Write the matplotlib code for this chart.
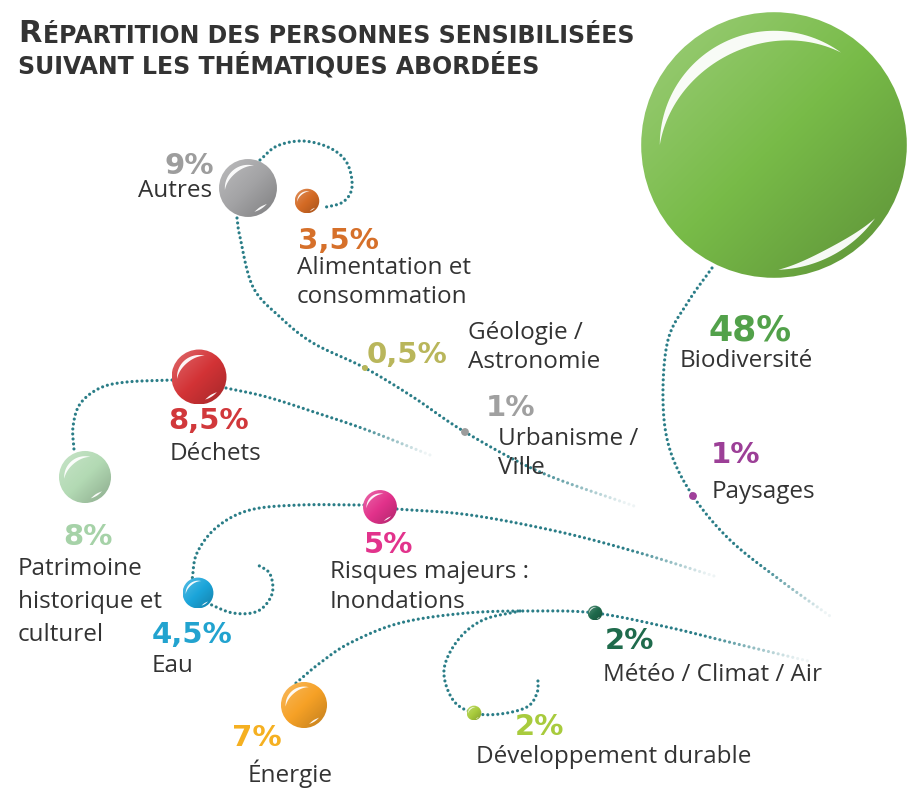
import numpy as np
import matplotlib.pyplot as plt
from matplotlib.patches import Circle, Polygon
from matplotlib.colors import LinearSegmentedColormap, to_rgb

# data
themes = ["Biodiversité", "Autres", "Déchets", "Patrimoine\nhistorique et\nculturel",
          "Énergie", "Risques majeurs :\nInondations", "Eau", "Alimentation et\nconsommation",
          "Météo / Climat / Air", "Développement durable", "Urbanisme /\nVille",
          "Paysages", "Géologie /\nAstronomie"]
values = [48, 9, 8.5, 8, 7, 5, 4.5, 3.5, 2, 2, 1, 1, 0.5]
colors = ["#78bb48", "#a3a3a5", "#d33336", "#b3dab4", "#f6a126", "#e2328b", "#1ba5da",
          "#d46a24", "#1e6a4c", "#a9cc3c", "#9c9c9c", "#a0409a", "#b7b65a"]
pct_colors = ["#52a14a", "#9d9d9d", "#d1383b", "#a6d2a8", "#f5b021", "#e2338c", "#22a3cf",
              "#d6702a", "#1f6b4c", "#a8cb3d", "#a0a0a0", "#9c3f97", "#b9b65b"]

# layout (pixels)
centers = [(774, 145), (248, 188), (199, 377), (85, 477), (304, 705), (380, 507), (198, 593),
           (307, 201), (595, 613), (474, 713), (465, 432), (693, 496), (365, 368)]
pct_pos = [(708, 330, "left"), (214, 166, "right"), (209, 421, "center"), (88, 537, "center"),
           (232, 738, "left"), (364, 545, "left"), (152, 635, "left"), (298, 241, "left"),
           (605, 641, "left"), (515, 727, "left"), (486, 408, "left"), (711, 455, "left"),
           (367, 355, "left")]
name_pos = [(680, 361, "left"), (212, 191, "right"), (216, 454, "center"), (18, 602, "left"),
            (248, 774, "left"), (330, 587, "left"), (152, 666, "left"), (297, 282, "left"),
            (603, 675, "left"), (476, 757, "left"), (498, 453, "left"), (712, 492, "left"),
            (468, 347, "left")]
line_step = [29, 29, 29, 33, 29, 29, 29, 29, 29, 29, 29, 29, 29]

# dotted connecting curves: (waypoints, fade at start, fade at end)
curves = [
    ([(712, 268), (688, 302), (668, 340), (663, 400), (670, 450), (693, 496), (730, 540),
      (780, 580), (830, 616)], 0, 90),
    ([(260, 160), (277, 146), (303, 141), (330, 148), (347, 163), (352, 187), (343, 202),
      (322, 208)], 0, 0),
    ([(237, 218), (240, 237), (253, 287), (280, 317), (313, 343), (365, 368), (413, 397),
      (465, 432), (540, 472), (634, 506)], 0, 110),
    ([(172, 380), (127, 382), (100, 388), (80, 404), (73, 427), (74, 450)], 0, 0),
    ([(226, 388), (267, 397), (317, 413), (367, 430), (430, 455)], 0, 80),
    ([(364, 505), (300, 505), (250, 510), (217, 527), (197, 553), (192, 580)], 0, 0),
    ([(397, 509), (470, 515), (560, 532), (640, 553), (714, 576)], 0, 90),
    ([(207, 603), (233, 613), (258, 611), (272, 594), (270, 574), (258, 565)], 0, 0),
    ([(296, 683), (320, 663), (350, 643), (400, 623), (467, 613), (533, 611), (595, 613),
      (667, 627), (733, 643), (808, 661)], 0, 110),
    ([(520, 611), (483, 620), (458, 640), (444, 670), (453, 700), (474, 713), (500, 714),
      (527, 707), (537, 693), (538, 679)], 0, 0),
]

LINE = "#2a7d87"


def spline(pts, n=40):
    p = np.array(pts, float)
    p = np.vstack([2 * p[0] - p[1], p, 2 * p[-1] - p[-2]])
    out = []
    for i in range(1, len(p) - 2):
        p0, p1, p2, p3 = p[i - 1], p[i], p[i + 1], p[i + 2]
        t = np.linspace(0, 1, n, endpoint=False)[:, None]
        out.append(0.5 * ((2 * p1) + (-p0 + p2) * t + (2 * p0 - 5 * p1 + 4 * p2 - p3) * t ** 2
                          + (-p0 + 3 * p1 - 3 * p2 + p3) * t ** 3))
    out.append(p[-2][None, :])
    return np.vstack(out)


def dotted(ax, pts, fade0, fade1, step=5.0):
    c = spline(pts)
    seg = np.hypot(*np.diff(c, axis=0).T)
    s = np.concatenate([[0], np.cumsum(seg)])
    d = np.arange(0, s[-1], step)
    x = np.interp(d, s, c[:, 0])
    y = np.interp(d, s, c[:, 1])
    a = np.ones_like(d)
    if fade1:
        a = np.minimum(a, np.clip((s[-1] - d) / fade1, 0.08, 1))
    if fade0:
        a = np.minimum(a, np.clip(d / fade0, 0.08, 1))
    rgba = np.zeros((len(d), 4))
    rgba[:, :3] = to_rgb(LINE)
    rgba[:, 3] = a
    ax.scatter(x, y, s=5, c=rgba, linewidths=0, zorder=2)


def crescent(ax, cx, cy, r, a0, a1, rad, thick):
    t = np.linspace(0, 1, 60)
    ang = np.radians(a0 + (a1 - a0) * t)
    ro = rad * r
    ri = ro - thick * r * np.sin(np.pi * t)
    outer = np.c_[cx + ro * np.cos(ang), cy - ro * np.sin(ang)]
    inner = np.c_[cx + ri * np.cos(ang), cy - ri * np.sin(ang)][::-1]
    ax.add_patch(Polygon(np.vstack([outer, inner]), closed=True, fc="white", ec="none",
                         alpha=0.95, zorder=5))


def bubble(ax, cx, cy, r, color):
    if r < 6:
        ax.add_patch(Circle((cx, cy), max(r, 3), fc=color, ec="none", zorder=4))
        return
    base = np.array(to_rgb(color))
    cmap = LinearSegmentedColormap.from_list("b", [base + (1 - base) * 0.22, base, base * 0.82])
    yy, xx = np.mgrid[-1:1:120j, -1:1:120j]
    im = ax.imshow((xx + yy) / 2, cmap=cmap, vmin=-0.8, vmax=0.8,
                   extent=(cx - r, cx + r, cy + r, cy - r), origin="upper",
                   interpolation="bilinear", zorder=4)
    clip = Circle((cx, cy), r, fc="none", ec="none")
    ax.add_patch(clip)
    im.set_clip_path(clip)
    if r > 60:
        crescent(ax, cx, cy, r, 54, 180, 0.86, 0.1)
        crescent(ax, cx, cy, r, -36, -88, 0.94, 0.06)
    else:
        crescent(ax, cx, cy, r, 75, 185, 0.8, 0.13)
        crescent(ax, cx, cy, r, -40, -75, 0.85, 0.07)


fig = plt.figure(figsize=(9.08, 7.88), dpi=100)
ax = fig.add_axes([0, 0, 1, 1])

for pts, f0, f1 in curves:
    dotted(ax, pts, f0, f1)

for v, (cx, cy), col in zip(values, centers, colors):
    r = 3.92 * v ** 0.91
    bubble(ax, cx, cy, r, col)

for v, name, pc, (px, py, pha), (nx, ny, nha), step in zip(values, themes, pct_colors, pct_pos,
                                                           name_pos, line_step):
    lab = f"{v:g}%".replace(".", ",")
    size = 25 if v > 40 else 21
    ax.text(px, py, lab, color=pc, fontsize=size, fontweight="bold", family="DejaVu Sans",
            ha=pha, va="center", zorder=6)
    lines = name.split("\n")
    y0 = ny - step * (len(lines) - 1) / 2
    for i, line in enumerate(lines):
        ax.text(nx, y0 + i * step, line, color="#333333", fontsize=17.5, family="Open Sans",
                ha=nha, va="center", zorder=6)

# title in small caps
t1 = ax.text(18, 42, "R", fontsize=22, fontweight="bold", color="#333333",
             family="DejaVu Sans", va="baseline")
ax.annotate("ÉPARTITION DES PERSONNES SENSIBILISÉES", xy=(1, 0), xycoords=t1,
            xytext=(1, 0), textcoords="offset points", fontsize=17, fontweight="bold",
            color="#333333", family="DejaVu Sans", va="bottom")
ax.text(18, 73, "SUIVANT LES THÉMATIQUES ABORDÉES", fontsize=17, fontweight="bold",
        color="#333333", family="DejaVu Sans", va="baseline")

ax.set_xlim(0, 908)
ax.set_ylim(788, 0)
ax.set_aspect("auto")
ax.axis("off")
fig.savefig("out.png", dpi=100)
